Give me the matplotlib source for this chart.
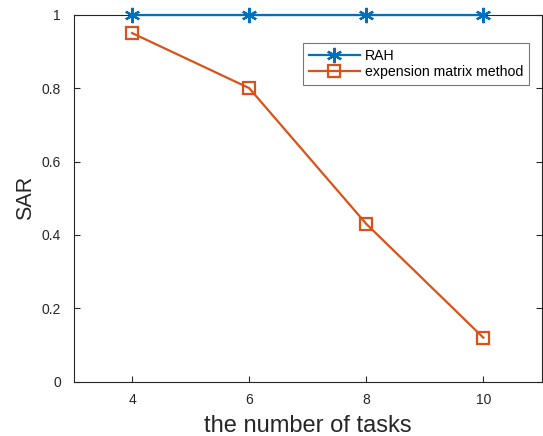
import matplotlib
matplotlib.use("Agg")
import matplotlib.pyplot as plt
from matplotlib.ticker import FuncFormatter

plt.rcParams['font.family'] = ['Liberation Sans', 'DejaVu Sans']

tasks = [4, 6, 8, 10]
rah = [1, 1, 1, 1]
expension = [0.95, 0.80, 0.43, 0.12]
x_ticks = [4, 6, 8, 10]
y_ticks = [0, 0.2, 0.4, 0.6, 0.8, 1]

blue = '#0072BD'
orange = '#D95319'
axc = '#262626'

fig = plt.figure(figsize=(5.43, 4.36), dpi=100)
ax = fig.add_axes([0.1354, 0.1245, 0.8626, 0.8418])

ax.plot(tasks, rah, color=blue, lw=1.6, marker=(6, 2, 0), ms=11,
        mew=1.6, mec=blue, label='RAH', clip_on=False, zorder=5)
ax.plot(tasks, expension, color=orange, lw=1.6, marker='s', ms=9,
        mfc='none', mec=orange, mew=1.6, label='expension matrix method',
        clip_on=False, zorder=4)

ax.set_xlim(3, 11)
ax.set_ylim(0, 1)
ax.set_xticks(x_ticks)
ax.set_yticks(y_ticks)
ax.yaxis.set_major_formatter(FuncFormatter(lambda v, p: f'{v:g}'))
ax.tick_params(direction='in', length=4, width=0.8, colors=axc,
               labelsize=10, top=True, right=True, pad=8)
ax.tick_params(axis='y', pad=9)
for s in ax.spines.values():
    s.set_color(axc)
    s.set_linewidth(0.8)

ax.set_xlabel('the number of tasks', fontsize=17, color=axc, labelpad=6)
ax.set_ylabel('SAR', fontsize=15.5, color=axc, labelpad=4)

leg = ax.legend(loc='upper right', bbox_to_anchor=(0.972, 0.923),
                fontsize=10.2, frameon=True, fancybox=False,
                borderaxespad=0, handlelength=3.6, handletextpad=0.35,
                borderpad=0.4, labelspacing=0.2)
leg.get_frame().set_edgecolor('#555555')
leg.get_frame().set_linewidth(0.8)

fig.savefig('out.png', dpi=100)
